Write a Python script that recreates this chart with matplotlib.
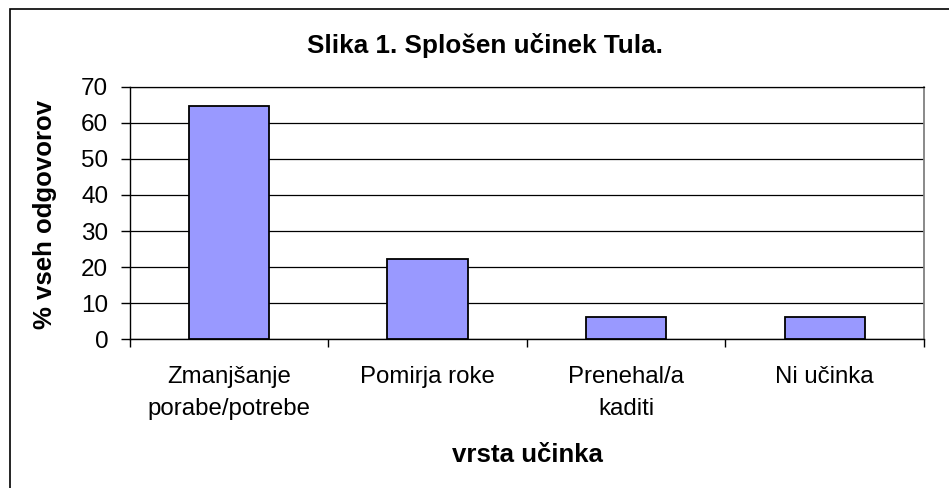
import matplotlib.pyplot as plt
from matplotlib.patches import Rectangle
import numpy as np

categories = ["Zmanjšanje\nporabe/potrebe", "Pomirja roke", "Prenehal/a\nkaditi", "Ni učinka"]
values = [64.6, 22.2, 6.2, 6.2]
y_ticks = [0, 10, 20, 30, 40, 50, 60, 70]

plt.rcParams['font.family'] = ['Liberation Sans', 'DejaVu Sans']

W, H = 949, 488
fig = plt.figure(figsize=(W / 100, H / 100), dpi=100)
ax = fig.add_axes([129.7 / W, 1 - 339.3 / H, (924 - 129.7) / W, (339.3 - 86.7) / H])

x = np.arange(len(categories))
ax.bar(x, values, width=0.405, color="#9999FF", edgecolor="black", linewidth=1.3, zorder=3)

ax.set_xlim(-0.5, len(categories) - 0.5)
ax.set_ylim(0, 70)
ax.set_yticks(y_ticks)
ax.set_yticklabels([str(t) for t in y_ticks], fontsize=17.5)
ax.tick_params(axis="y", length=6.5, width=1, direction="out", pad=9)

# category labels at centres, tick marks between categories
ax.set_xticks(x)
ax.set_xticklabels(categories, fontsize=17.3, linespacing=1.6)
ax.tick_params(axis="x", which="major", length=0, pad=19)
ax.set_xticks(np.arange(-0.5, len(categories)), minor=True)
ax.tick_params(axis="x", which="minor", length=5.5, width=1, direction="out")

ax.grid(axis="y", color="black", linewidth=0.9, zorder=0)
ax.set_axisbelow(True)
for s in ["left", "bottom"]:
    ax.spines[s].set_color("black")
    ax.spines[s].set_linewidth(1)
ax.spines["right"].set_color("#808080")
ax.spines["right"].set_linewidth(1.3)
ax.spines["top"].set_color("black")
ax.spines["top"].set_linewidth(0.9)

fig.text(485 / W, 1 - 45.5 / H, "Slika 1. Splošen učinek Tula.", fontsize=18.8,
         fontweight="bold", ha="center", va="center")
fig.text(45.5 / W, 1 - 214.5 / H, "% vseh odgovorov", fontsize=18.5, fontweight="bold",
         rotation=90, ha="center", va="center")
fig.text(527 / W, 1 - 455 / H, "vrsta učinka", fontsize=18.6, fontweight="bold",
         ha="center", va="center")

# chart border (right and bottom edges fall outside the image)
fig.patches.append(Rectangle((10 / W, -0.05), 1.1, 1 - 9 / H + 0.05,
                             transform=fig.transFigure, fill=False,
                             edgecolor="black", linewidth=1.2))

fig.savefig("out.png", dpi=100)
